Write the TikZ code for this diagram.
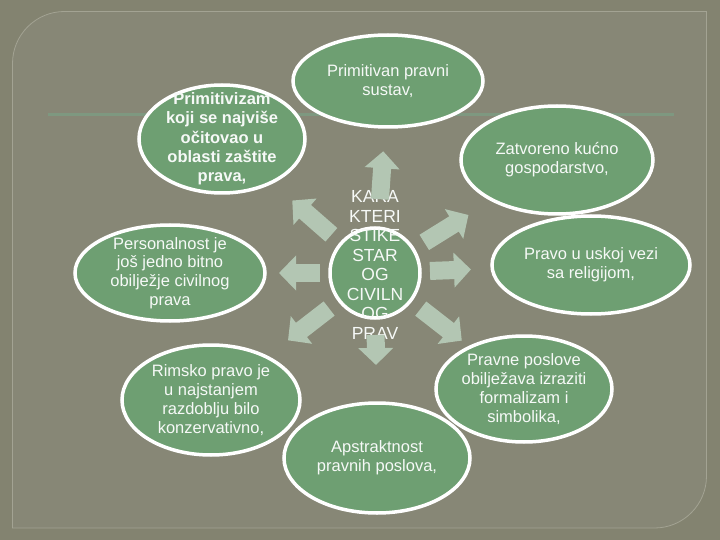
\documentclass[tikz,border=0pt]{standalone}
\usepackage{fontspec}
\setmainfont{Liberation Sans}
\usetikzlibrary{shapes.geometric,arrows.meta,calc}
\definecolor{bgout}{HTML}{838370}
\definecolor{bgin}{HTML}{878776}
\definecolor{framec}{HTML}{A3A393}
\definecolor{rulec}{HTML}{7E9880}
\definecolor{leaf}{HTML}{6E9F72}
\definecolor{pale}{HTML}{B3C6B3}
\begin{document}
\begin{tikzpicture}[x=1pt,y=-1pt,
	blob/.style={ellipse,draw=white,line width=3.5pt,fill=leaf,inner sep=0pt},
	txt/.style={text=white!94!leaf,align=center,font=\fontsize{16.5}{18.8}\selectfont},
	spoke/.style={draw=pale,line width=18pt,-{Triangle[width=34pt,length=17pt]}}]
	\useasboundingbox (0,0) rectangle (720,540);
	\fill[bgout] (0,0) rectangle (720,540);
	\draw[framec,fill=bgin,line width=.8pt] (12.5,528) -- (12.5,63.5) arc[start angle=180,end angle=90,radius=52pt]
		-- (706.5,11.5) -- (706.5,476) arc[start angle=0,end angle=-90,radius=52pt] -- cycle;
	\draw[rulec,line width=2.5pt] (48,114.5) -- (674,114.5);

	\node[blob,minimum width=190pt,minimum height=92pt,label={[txt]center:Primitivan pravni\\sustav,}] (prim) at (388,81) {};
	\node[blob,minimum width=166pt,minimum height=108pt,label={[txt,font=\fontsize{16.5}{19.3}\selectfont\bfseries]center:Primitivizam\\koji se najviše\\očitovao u\\oblasti zaštite\\prava,}] (primz) at (222,139) {};
	\node[blob,minimum width=192pt,minimum height=108pt,label={[txt]center:Zatvoreno kućno\\gospodarstvo,}] (zatv) at (557,160) {};
	\node[blob,minimum width=198pt,minimum height=98pt,label={[txt]center:Pravo u uskoj vezi\\sa religijom,}] (relig) at (591,265) {};
	\node[blob,minimum width=176pt,minimum height=106pt,label={[txt]center:Pravne poslove\\obilježava izraziti\\formalizam i\\simbolika,}] (posl) at (524,389) {};
	\node[blob,minimum width=186pt,minimum height=110pt,label={[txt]center:Apstraktnost\\pravnih poslova,}] (apst) at (377,458) {};
	\node[blob,minimum width=178pt,minimum height=110pt,label={[txt]center:Rimsko pravo je\\u najstanjem\\razdoblju bilo\\konzervativno,}] (rim) at (211,400) {};
	\node[blob,minimum width=190pt,minimum height=96pt,label={[txt]center:Personalnost je\\još jedno bitno\\obilježje civilnog\\prava}] (pers) at (170,273) {};
	\node[blob,circle,minimum size=90pt,label={[txt,font=\fontsize{17.5}{19.5}\selectfont,yshift=8pt]center:KARA\\KTERI\\STIKE\\STAR\\OG\\CIVILN\\OG\\PRAV}] (core) at (375,273) {};

	\draw[spoke] ($(core)!74pt!(prim)$) -- ($(core)!122pt!(prim)$);
	\draw[spoke] ($(core)!58pt!(primz)$) -- ($(core)!110pt!(primz)$);
	\draw[spoke] ($(core)!58pt!(zatv)$) -- ($(core)!110pt!(zatv)$);
	\draw[spoke] ($(core)!55pt!(pers)$) -- ($(core)!96pt!(pers)$);
	\draw[spoke] ($(core)!55pt!(relig)$) -- ($(core)!96pt!(relig)$);
	\draw[spoke] ($(core)!58pt!(rim)$) -- ($(core)!110pt!(rim)$);
	\draw[spoke] ($(core)!58pt!(posl)$) -- ($(core)!110pt!(posl)$);
	\draw[spoke] ($(core)!62pt!(apst)$) -- ($(core)!92pt!(apst)$);
\end{tikzpicture}
\end{document}
